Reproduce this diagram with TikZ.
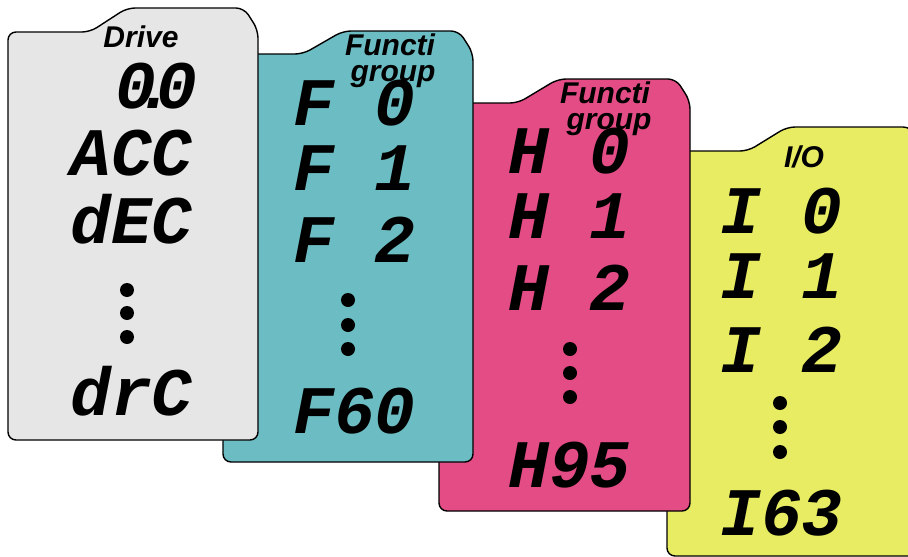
\documentclass[tikz,border=0pt]{standalone}
\usepackage{fontspec}
\setmainfont{Liberation Sans}
\newfontfamily\segfont{Liberation Mono}
\definecolor{cgray}{HTML}{E6E6E6}
\definecolor{cteal}{HTML}{6CBDC3}
\definecolor{cpink}{HTML}{E44C85}
\definecolor{cyell}{HTML}{E7EC62}
\tikzset{
  card/.style={draw=black, line width=1.4pt, rounded corners=8pt},
  seg/.style={anchor=base west, inner sep=0pt, font=\segfont\bfseries\itshape\fontsize{68}{68}\selectfont},
  head/.style={anchor=base, inner sep=0pt, font=\bfseries\itshape\fontsize{30}{30}\selectfont},
  vdot/.style={fill=black, circle, minimum size=14pt, inner sep=0pt}
}
% x1 ytop xs xe ytab x2 ybot color
\newcommand{\cardshape}[8]{%
  \filldraw[card, fill=#8] (#1,#7) -- (#1,#2) -- (#3,#2) -- (#4,#5) -- ({#6-14},#5) -- (#6,{#5+22}) -- (#6,#7) -- cycle;}
\begin{document}
\begin{tikzpicture}[x=1pt,y=-1pt]
\useasboundingbox (0,0) rectangle (908,557);
\clip (0,0) rectangle (908,557);
\fill[white] (0,0) rectangle (908,557);
% cards, back to front
\cardshape{667}{151}{748}{787}{127}{925}{556}{cyell}
\cardshape{439}{103}{518}{558}{79}{690}{511}{cpink}
\cardshape{223}{54}{303}{343}{31}{473}{462}{cteal}
\cardshape{8}{32}{90}{127}{8}{258}{440}{cgray}
% Drive
\node[head] (dh) at (141,47) {Drive};
\node[seg] (d1) at (115,108) {0\kern-20.4pt.\kern-20.4pt0};
\node[seg] (d2) at (70,175) {ACC};
\node[seg] (d3) at (70,243) {dEC};
\node[vdot] (dd1) at (127,290) {};
\node[vdot] (dd2) at (127,313) {};
\node[vdot] (dd3) at (127,337) {};
\node[seg] (d4) at (70,415) {drC};
% Function group (F)
\node[head] (fh1) at (390,55) {Functi};
\node[head] (fh2) at (393,81) {group};
\node[seg] (f1) at (293,125) {F 0};
\node[seg] (f2) at (293,190) {F 1};
\node[seg] (f3) at (293,262) {F 2};
\node[vdot] (fd1) at (348,300) {};
\node[vdot] (fd2) at (348,325) {};
\node[vdot] (fd3) at (348,349) {};
\node[seg] (f4) at (293,433) {F60};
% Function group (H)
\node[head] (hh1) at (605,103) {Functi};
\node[head] (hh2) at (609,129) {group};
\node[seg] (h1) at (508,173) {H 0};
\node[seg] (h2) at (508,238) {H 1};
\node[seg] (h3) at (508,310) {H 2};
\node[vdot] (hd1) at (570,349) {};
\node[vdot] (hd2) at (570,373) {};
\node[vdot] (hd3) at (570,397) {};
\node[seg] (h4) at (508,487) {H95};
% I/O
\node[head] (ih) at (804,167) {I/O};
\node[seg] (i1) at (720,233) {I 0};
\node[seg] (i2) at (720,298) {I 1};
\node[seg] (i3) at (720,372) {I 2};
\node[vdot] (id1) at (780,403) {};
\node[vdot] (id2) at (780,427) {};
\node[vdot] (id3) at (780,452) {};
\node[seg] (i4) at (720,535) {I63};
\end{tikzpicture}
\end{document}
